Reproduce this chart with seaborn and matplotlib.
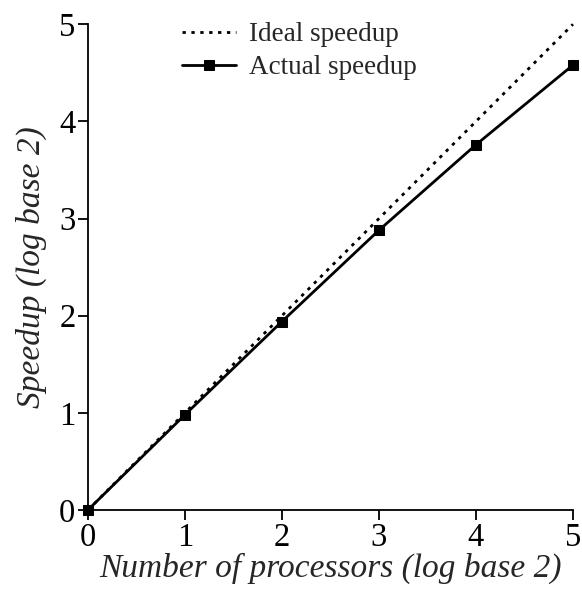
import matplotlib
matplotlib.use("Agg")
import matplotlib.pyplot as plt
import seaborn as sns
import pandas as pd

# log2 of processor count and measured speedup (log2)
procs_log2 = [0, 1, 2, 3, 4, 5]
ideal_speedup = [0, 1, 2, 3, 4, 5]
actual_speedup = [0, 0.98, 1.94, 2.88, 3.76, 4.58]
ticks = [0, 1, 2, 3, 4, 5]

sns.set_style("ticks")
plt.rcParams['font.family'] = ['Liberation Serif', 'DejaVu Serif']

ideal_df = pd.DataFrame({"procs": procs_log2, "speedup": ideal_speedup})
actual_df = pd.DataFrame({"procs": procs_log2, "speedup": actual_speedup})

fig = plt.figure(figsize=(5.82, 5.92), dpi=100)
ax = fig.add_axes([0.151, 0.1385, 0.8335, 0.8205])

sns.lineplot(data=ideal_df, x="procs", y="speedup", ax=ax, color="black",
             linestyle=(0, (1.2, 2.0)), linewidth=2.0, label="Ideal speedup",
             clip_on=False)
sns.lineplot(data=actual_df, x="procs", y="speedup", ax=ax, color="black",
             linewidth=2.0, marker="s", markersize=7, markeredgecolor="black",
             label="Actual speedup", clip_on=False, zorder=5)

ax.set_xlim(0, 5)
ax.set_ylim(0, 5)
ax.set_xticks(ticks)
ax.set_yticks(ticks)
ax.tick_params(axis="both", direction="out", length=7, width=1.3,
               labelsize=23.5, pad=2, colors="black")
for side in ["top", "right"]:
    ax.spines[side].set_visible(False)
for side in ["left", "bottom"]:
    ax.spines[side].set_linewidth(1.3)
    ax.spines[side].set_color("black")

ax.set_xlabel("Number of processors (log base 2)", fontsize=24, style="italic",
              labelpad=0)
ax.set_ylabel("Speedup (log base 2)", fontsize=24, style="italic", labelpad=9)

leg = ax.legend(loc="upper left", bbox_to_anchor=(0.172, 1.027), frameon=False,
                fontsize=19.5, handlelength=2.0, handletextpad=0.45,
                labelspacing=0.31, borderaxespad=0)

fig.savefig("out.png", dpi=100)
